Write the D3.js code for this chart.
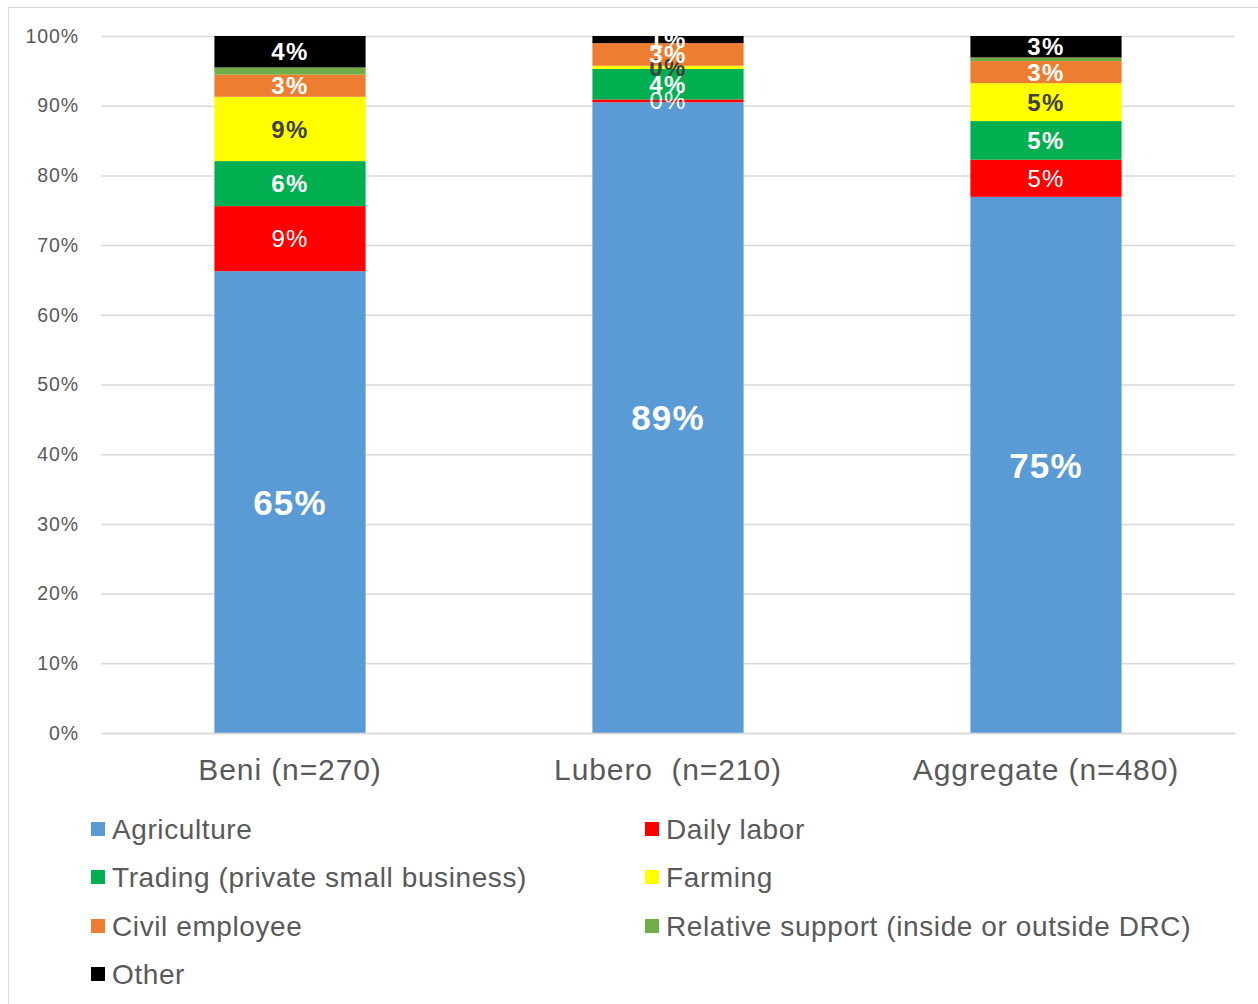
<!DOCTYPE html>
<html><head><meta charset="utf-8">
<script src="https://cdn.jsdelivr.net/npm/d3@7"></script>
<style>body{margin:0;background:#fff}svg{display:block;font-family:"Liberation Sans",Arial,sans-serif}</style>
</head><body><svg id="c" width="1258" height="1004"></svg>
<script>
const categories = ["Beni (n=270)", "Lubero  (n=210)", "Aggregate (n=480)"];
const seriesNames = ["Agriculture","Daily labor","Trading (private small business)","Farming","Civil employee","Relative support (inside or outside DRC)","Other"];
const agriculture = [64.6, 89.0, 75.0];
const dailyLabor = [9.1, 0.4, 5.2];
const trading = [6.3, 4.3, 5.4];
const farming = [9.0, 0.45, 5.3];
const civilEmployee = [3.1, 3.2, 3.1];
const relativeSupport = [1.0, 0.0, 0.5];
const other = [4.4, 1.0, 3.0];
const yTicks = [0,0.1,0.2,0.3,0.4,0.5,0.6,0.7,0.8,0.9,1.0];
const colors = ["#5b9bd5","#ff0000","#00b050","#ffff00","#ed7d31","#70ad47","#000000"];
const labelStyle = [
  {show:true, fill:"#fff", weight:"bold", size:35, ls:1.2},
  {show:true, fill:"#fff", weight:"normal", size:24, ls:1.2},
  {show:true, fill:"#fff", weight:"bold", size:24, ls:1.5},
  {show:true, fill:"#404040", weight:"bold", size:24, ls:1.5},
  {show:true, fill:"#fff", weight:"bold", size:24, ls:1.5},
  {show:false},
  {show:true, fill:"#fff", weight:"bold", size:24, ls:1.5}
];
const seriesVals = [agriculture,dailyLabor,trading,farming,civilEmployee,relativeSupport,other];
const rows = categories.map((c,i)=>{const r={cat:c};seriesNames.forEach((s,j)=>r[s]=seriesVals[j][i]);return r;});
const stack = d3.stack().keys(seriesNames).offset(d3.stackOffsetExpand);
const layers = stack(rows);

const svg = d3.select("#c");
svg.append("rect").attr("x",8.5).attr("y",7.5).attr("width",1270).attr("height",1010).attr("fill","none").attr("stroke","#d9d9d9");

const x = d3.scaleBand().domain(categories).range([101,1235]).paddingInner(0.6).paddingOuter(0.3);
const y = d3.scaleLinear().domain([0,1]).range([733,36]);

const yAxis = d3.axisLeft(y).tickValues(yTicks).tickFormat(d3.format(".0%")).tickSize(-(1235-101)).tickPadding(22);
const ga = svg.append("g").attr("transform","translate(101,0)").call(yAxis);
ga.select(".domain").remove();
ga.selectAll(".tick line").attr("stroke","#d9d9d9").attr("stroke-width",1.5);
ga.selectAll(".tick text").attr("fill","#595959").attr("font-size",19.5).attr("letter-spacing","0.9px").attr("font-family","Liberation Sans, Arial, sans-serif");

layers.forEach((layer,j)=>{
  svg.append("g").selectAll("rect").data(layer).join("rect")
    .attr("x",d=>x(d.data.cat)).attr("width",x.bandwidth())
    .attr("y",d=>y(d[1])).attr("height",d=>y(d[0])-y(d[1]))
    .attr("fill",colors[j]);
});
layers.forEach((layer,j)=>{
  const st = labelStyle[j];
  if(!st.show) return;
  svg.append("g").selectAll("text").data(layer).join("text")
    .attr("x",d=>x(d.data.cat)+x.bandwidth()/2)
    .attr("y",d=>(y(d[0])+y(d[1]))/2)
    .attr("dy","0.36em").attr("text-anchor","middle")
    .attr("fill",st.fill).attr("font-weight",st.weight).attr("font-size",st.size)
    .attr("letter-spacing",st.ls+"px")
    .text(d=>Math.round(d.data[layer.key])+"%");
});

const xAxis = d3.axisBottom(x).tickSize(0).tickPadding(26);
const gx = svg.append("g").attr("transform","translate(0,733)").call(xAxis);
gx.select(".domain").attr("stroke","#d9d9d9").attr("stroke-width",1.5);
gx.selectAll(".tick text").attr("fill","#595959").attr("font-size",30).attr("letter-spacing","0.9px").attr("font-family","Liberation Sans, Arial, sans-serif").style("white-space","pre");

const legPos = [[91,829],[645,829],[91,877],[645,877],[91,926],[645,926],[91,974]];
const lg = svg.append("g").selectAll("g").data(seriesNames).join("g")
  .attr("transform",(d,i)=>`translate(${legPos[i][0]},${legPos[i][1]})`);
lg.append("rect").attr("x",0).attr("y",-7).attr("width",14).attr("height",14).attr("fill",(d,i)=>colors[i]);
lg.append("text").attr("x",21).attr("dy","0.36em").attr("fill","#595959").attr("font-size",28).attr("letter-spacing","0.6px").text(d=>d);
</script></body></html>
